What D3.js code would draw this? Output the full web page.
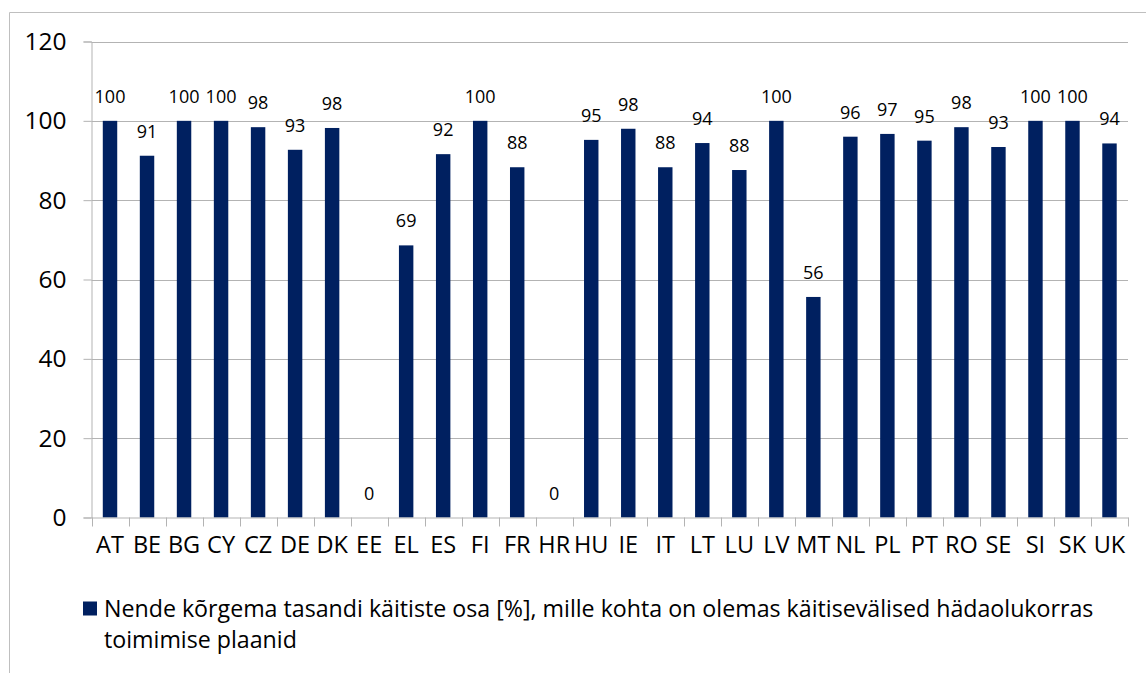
<!DOCTYPE html>
<html>
<head>
<meta charset="utf-8">
<script src="https://cdn.jsdelivr.net/npm/d3@7"></script>
<style>
  html, body { margin: 0; padding: 0; background: #fff; }
  svg { display: block; }
  text { font-family: "Open Sans", sans-serif; fill: #000; }
</style>
</head>
<body>
<svg id="chart" width="1146" height="673"></svg>
<script>
const categories = ["AT","BE","BG","CY","CZ","DE","DK","EE","EL","ES","FI","FR","HR","HU","IE","IT","LT","LU","LV","MT","NL","PL","PT","RO","SE","SI","SK","UK"];
const values = [100, 91.2, 100, 100, 98.4, 92.7, 98.2, 0, 68.6, 91.6, 100, 88.3, 0, 95.2, 98.0, 88.3, 94.4, 87.6, 100, 55.6, 96.0, 96.7, 95.0, 98.4, 93.4, 100, 100, 94.3];
const yTicks = [0, 20, 40, 60, 80, 100, 120];
const seriesName = ["Nende kõrgema tasandi käitiste osa [%], mille kohta on olemas käitisevälised hädaolukorras", "toimimise plaanid"];

const svg = d3.select("#chart");
const barColor = "#002060";
const gridColor = "#b3b3b3";
const FONT = "Open Sans";

// chart area border (left and top visible)
svg.append("path")
  .attr("d", "M9.5,673 L9.5,12.5 L1146,12.5")
  .attr("fill", "none").attr("stroke", "#bfbfbf").attr("stroke-width", 1);

const plot = { left: 91.5, right: 1128, top: 41.5, bottom: 517.5 };

const x = d3.scaleBand().domain(categories).range([plot.left, plot.right]).paddingInner(0).paddingOuter(0);
const y = d3.scaleLinear().domain([0, 120]).range([plot.bottom, plot.top]);

// gridlines
svg.append("g").selectAll("line").data(yTicks.filter(d => d > 0)).join("line")
  .attr("x1", plot.left).attr("x2", plot.right)
  .attr("y1", d => Math.round(y(d)) + 0.5).attr("y2", d => Math.round(y(d)) + 0.5)
  .attr("stroke", gridColor).attr("stroke-width", 1);

// y axis
const yAxis = svg.append("g")
  .attr("transform", `translate(${plot.left},0)`)
  .call(d3.axisLeft(y).tickValues(yTicks).tickSize(8).tickPadding(17).tickFormat(d3.format("d")));
yAxis.select(".domain").attr("stroke", gridColor);
yAxis.selectAll(".tick line").attr("stroke", gridColor);
yAxis.selectAll(".tick text").attr("font-size", 24.5).attr("font-family", FONT).attr("fill", "#000").attr("dy", "0.33em");

// bars
const bw = x.bandwidth() * 0.39;
svg.append("g").selectAll("rect").data(categories).join("rect")
  .attr("x", (d) => x(d) + (x.bandwidth() - bw) / 2)
  .attr("width", bw)
  .attr("y", (d, i) => y(values[i]))
  .attr("height", (d, i) => y(0) - y(values[i]))
  .attr("fill", barColor);

// x axis
const xAxis = svg.append("g")
  .attr("transform", `translate(0,${plot.bottom})`)
  .call(d3.axisBottom(x).tickSize(0).tickPadding(19));
xAxis.select(".domain").attr("stroke", gridColor);
xAxis.selectAll(".tick text").attr("font-size", 23.5).attr("font-family", FONT).attr("fill", "#000");
// tick marks at band boundaries
const bounds = categories.map(c => x(c)).concat([plot.right]);
xAxis.append("g").selectAll("line").data(bounds).join("line")
  .attr("x1", d => Math.round(d) + 0.5).attr("x2", d => Math.round(d) + 0.5)
  .attr("y1", 0).attr("y2", 9)
  .attr("stroke", gridColor);

// data labels
svg.append("g").selectAll("text").data(categories).join("text")
  .attr("x", d => x(d) + x.bandwidth() / 2)
  .attr("y", (d, i) => y(values[i]) - 18)
  .attr("text-anchor", "middle")
  .attr("font-size", 18)
  .text((d, i) => d3.format(".0f")(values[i]));

// legend
svg.append("rect").attr("x", 83).attr("y", 601.5).attr("width", 14).attr("height", 14).attr("fill", barColor);
svg.append("g").selectAll("text").data(seriesName).join("text")
  .attr("x", 104)
  .attr("y", (d, i) => 616.5 + i * 31.5)
  .attr("font-size", 23.2)
  .text(d => d);
</script>
</body>
</html>
